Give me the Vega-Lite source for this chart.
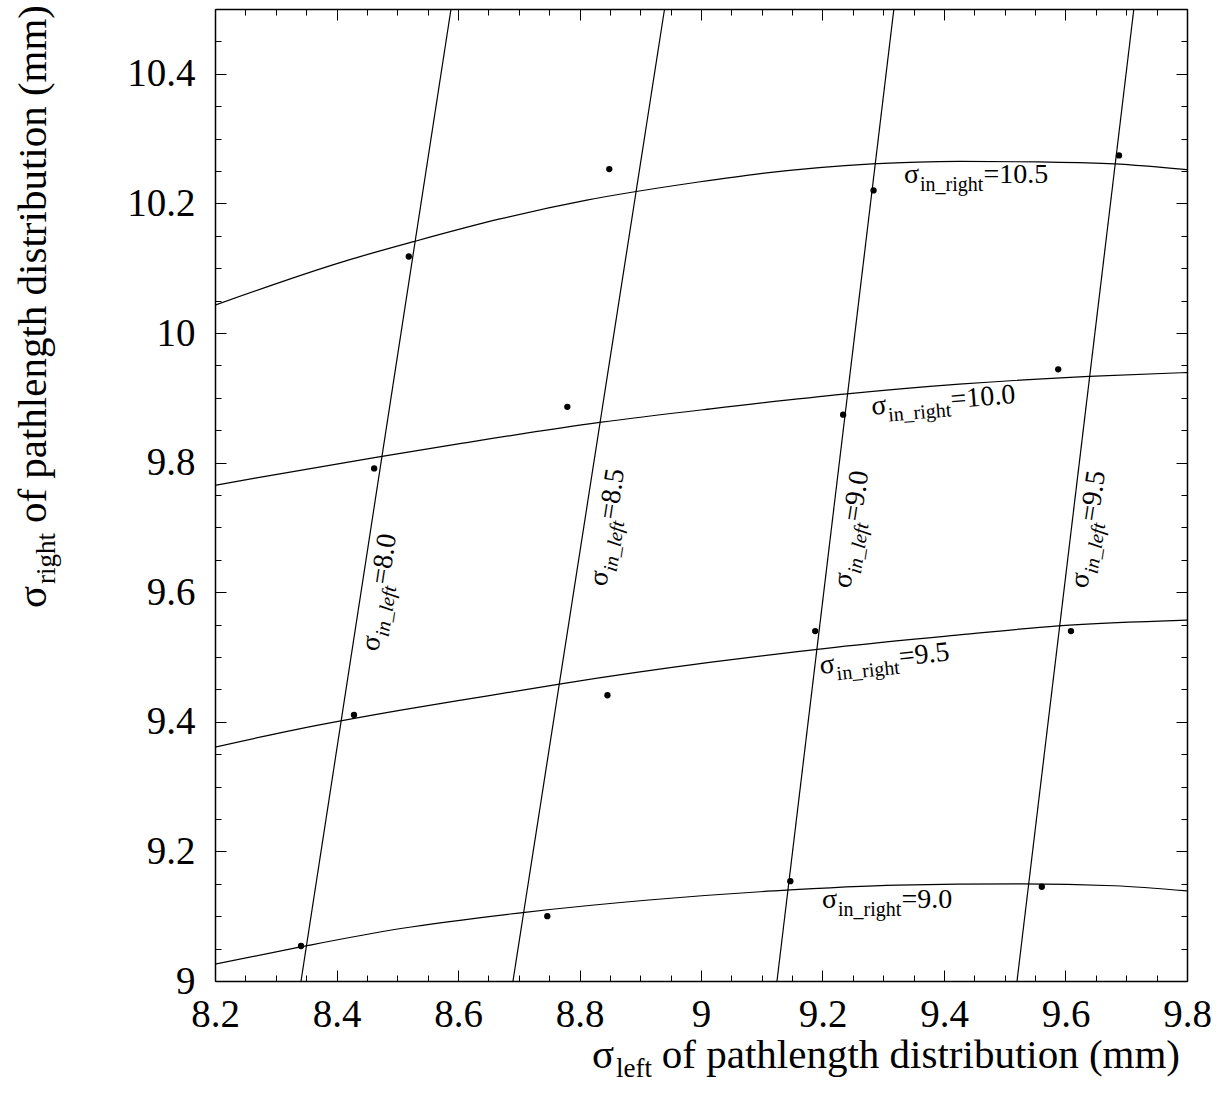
{
  "$schema": "https://vega.github.io/schema/vega-lite/v6.json",
  "width": 972,
  "height": 972,
  "autosize": {"type": "none"},
  "padding": {"left": 215, "top": 9, "right": 33, "bottom": 125},
  "background": "white",
  "config": {
    "view": {"stroke": null},
    "axis": {"domainColor": "black", "domainWidth": 1.5, "tickColor": "black", "tickWidth": 1, "labelColor": "black", "labelFont": "Liberation Serif", "labelFontSize": 39, "grid": false}
  },
  "datasets": {
    "points": [
      {"x": 8.3416, "y": 9.054}, {"x": 8.4288, "y": 9.4105}, {"x": 8.462, "y": 9.791}, {"x": 8.519, "y": 10.118},
      {"x": 8.747, "y": 9.1}, {"x": 8.846, "y": 9.441}, {"x": 8.78, "y": 9.886}, {"x": 8.849, "y": 10.253},
      {"x": 9.147, "y": 9.154}, {"x": 9.188, "y": 9.54}, {"x": 9.234, "y": 9.874}, {"x": 9.284, "y": 10.22},
      {"x": 9.561, "y": 9.1455}, {"x": 9.609, "y": 9.54}, {"x": 9.588, "y": 9.944}, {"x": 9.688, "y": 10.274}
    ],
    "lines": [
      {"id": "R10.5", "i": 0, "x": 8.2, "y": 10.043}, {"id": "R10.5", "i": 1, "x": 8.414, "y": 10.111}, {"id": "R10.5", "i": 2, "x": 8.527, "y": 10.141}, {"id": "R10.5", "i": 3, "x": 8.669, "y": 10.176}, {"id": "R10.5", "i": 4, "x": 8.812, "y": 10.205}, {"id": "R10.5", "i": 5, "x": 8.996, "y": 10.233}, {"id": "R10.5", "i": 6, "x": 9.098, "y": 10.246}, {"id": "R10.5", "i": 7, "x": 9.282, "y": 10.261}, {"id": "R10.5", "i": 8, "x": 9.425, "y": 10.265}, {"id": "R10.5", "i": 9, "x": 9.557, "y": 10.264}, {"id": "R10.5", "i": 10, "x": 9.68, "y": 10.261}, {"id": "R10.5", "i": 11, "x": 9.8, "y": 10.252},
      {"id": "R10.0", "i": 0, "x": 8.2, "y": 9.765}, {"id": "R10.0", "i": 1, "x": 8.266, "y": 9.776}, {"id": "R10.0", "i": 2, "x": 8.465, "y": 9.808}, {"id": "R10.0", "i": 3, "x": 8.608, "y": 9.83}, {"id": "R10.0", "i": 4, "x": 8.833, "y": 9.862}, {"id": "R10.0", "i": 5, "x": 9.016, "y": 9.883}, {"id": "R10.0", "i": 6, "x": 9.24, "y": 9.906}, {"id": "R10.0", "i": 7, "x": 9.425, "y": 9.921}, {"id": "R10.0", "i": 8, "x": 9.639, "y": 9.933}, {"id": "R10.0", "i": 9, "x": 9.8, "y": 9.939},
      {"id": "R9.5", "i": 0, "x": 8.2, "y": 9.361}, {"id": "R9.5", "i": 1, "x": 8.333, "y": 9.388}, {"id": "R9.5", "i": 2, "x": 8.506, "y": 9.418}, {"id": "R9.5", "i": 3, "x": 8.649, "y": 9.44}, {"id": "R9.5", "i": 4, "x": 8.772, "y": 9.459}, {"id": "R9.5", "i": 5, "x": 9.017, "y": 9.492}, {"id": "R9.5", "i": 6, "x": 9.221, "y": 9.515}, {"id": "R9.5", "i": 7, "x": 9.425, "y": 9.534}, {"id": "R9.5", "i": 8, "x": 9.588, "y": 9.548}, {"id": "R9.5", "i": 9, "x": 9.8, "y": 9.557},
      {"id": "R9.0", "i": 0, "x": 8.2, "y": 9.026}, {"id": "R9.0", "i": 1, "x": 8.343, "y": 9.053}, {"id": "R9.0", "i": 2, "x": 8.506, "y": 9.081}, {"id": "R9.0", "i": 3, "x": 8.71, "y": 9.106}, {"id": "R9.0", "i": 4, "x": 8.914, "y": 9.125}, {"id": "R9.0", "i": 5, "x": 9.119, "y": 9.139}, {"id": "R9.0", "i": 6, "x": 9.323, "y": 9.148}, {"id": "R9.0", "i": 7, "x": 9.527, "y": 9.15}, {"id": "R9.0", "i": 8, "x": 9.68, "y": 9.147}, {"id": "R9.0", "i": 9, "x": 9.8, "y": 9.139},
      {"id": "L8.0", "i": 0, "x": 8.3416, "y": 9.0}, {"id": "L8.0", "i": 1, "x": 8.5885, "y": 10.5},
      {"id": "L8.5", "i": 0, "x": 8.6905, "y": 9.0}, {"id": "L8.5", "i": 1, "x": 8.94, "y": 10.5},
      {"id": "L9.0", "i": 0, "x": 9.1251, "y": 9.0}, {"id": "L9.0", "i": 1, "x": 9.3175, "y": 10.5},
      {"id": "L9.5", "i": 0, "x": 9.5202, "y": 9.0}, {"id": "L9.5", "i": 1, "x": 9.7125, "y": 10.5}
    ],
    "labels": [
      {"id": "R10.5", "sub": "in_right", "val": "=10.5", "x": 9.3605, "y": 10.231},
      {"id": "R9.0", "sub": "in_right", "val": "=9.0", "x": 9.2255, "y": 9.1122},
      {"id": "R10.0", "sub": "in_right", "val": "=10.0", "x": 9.3078, "y": 9.8758},
      {"id": "R9.5", "sub": "in_right", "val": "=9.5", "x": 9.2231, "y": 9.4765},
      {"id": "L8.0", "sub": "in_left", "val": "=8.0", "x": 8.4726, "y": 9.5321},
      {"id": "L8.5", "sub": "in_left", "val": "=8.5", "x": 8.8479, "y": 9.6324},
      {"id": "L9.0", "sub": "in_left", "val": "=9.0", "x": 9.2499, "y": 9.6293},
      {"id": "L9.5", "sub": "in_left", "val": "=9.5", "x": 9.6397, "y": 9.6293}
    ],
    "titles": [
      {"id": "xt", "sub": "left", "main": "of pathlength distribution (mm)", "x": 9.7885, "y": 8.8657},
      {"id": "yt", "sub": "right", "main": "of pathlength distribution (mm)", "x": 7.9218, "y": 10.5062}
    ]
  },
  "encoding": {
    "x": {"field": "x", "type": "quantitative", "scale": {"domain": [8.2, 9.8], "nice": false, "zero": false}, "axis": null},
    "y": {"field": "y", "type": "quantitative", "scale": {"domain": [9, 10.5], "nice": false, "zero": false}, "axis": null}
  },
  "resolve": {"axis": {"x": "independent", "y": "independent"}},
  "layer": [
    {
      "data": {"name": "lines"},
      "mark": {"type": "line", "color": "black", "strokeWidth": 1.2, "clip": true, "interpolate": "monotone"},
      "encoding": {
        "x": {"field": "x", "type": "quantitative", "scale": {"domain": [8.2, 9.8], "nice": false, "zero": false},
          "axis": {"orient": "top", "title": null, "labels": false, "domain": true,
            "values": [8.2,8.25,8.3,8.35,8.4,8.45,8.5,8.55,8.6,8.65,8.7,8.75,8.8,8.85,8.9,8.95,9,9.05,9.1,9.15,9.2,9.25,9.3,9.35,9.4,9.45,9.5,9.55,9.6,9.65,9.7,9.75,9.8],
            "tickSize": {"condition": {"test": "abs(datum.value*5-round(datum.value*5))<0.001", "value": -11}, "value": -6}}},
        "y": {"field": "y", "type": "quantitative", "scale": {"domain": [9, 10.5], "nice": false, "zero": false},
          "axis": {"orient": "right", "title": null, "labels": false, "domain": true,
            "values": [9,9.05,9.1,9.15,9.2,9.25,9.3,9.35,9.4,9.45,9.5,9.55,9.6,9.65,9.7,9.75,9.8,9.85,9.9,9.95,10,10.05,10.1,10.15,10.2,10.25,10.3,10.35,10.4,10.45,10.5],
            "tickSize": {"condition": {"test": "abs(datum.value*5-round(datum.value*5))<0.001", "value": -11}, "value": -6}}},
        "detail": {"field": "id", "type": "nominal"},
        "order": {"field": "i", "type": "quantitative"}
      }
    },
    {
      "data": {"name": "points"},
      "mark": {"type": "circle", "size": 40, "color": "black", "opacity": 1},
      "encoding": {
        "x": {"field": "x", "type": "quantitative", "scale": {"domain": [8.2, 9.8], "nice": false, "zero": false},
          "axis": {"orient": "bottom", "title": null, "domain": true, "labelFlush": false, "labelOverlap": false, "labelPadding": 25,
            "values": [8.2,8.25,8.3,8.35,8.4,8.45,8.5,8.55,8.6,8.65,8.7,8.75,8.8,8.85,8.9,8.95,9,9.05,9.1,9.15,9.2,9.25,9.3,9.35,9.4,9.45,9.5,9.55,9.6,9.65,9.7,9.75,9.8],
            "labelExpr": "abs(datum.value*5-round(datum.value*5))<0.001 ? format(datum.value,'~g') : ''",
            "tickSize": {"condition": {"test": "abs(datum.value*5-round(datum.value*5))<0.001", "value": -11}, "value": -6}}},
        "y": {"field": "y", "type": "quantitative", "scale": {"domain": [9, 10.5], "nice": false, "zero": false},
          "axis": {"orient": "left", "title": null, "domain": true, "labelFlush": false, "labelOverlap": false, "labelPadding": 31,
            "values": [9,9.05,9.1,9.15,9.2,9.25,9.3,9.35,9.4,9.45,9.5,9.55,9.6,9.65,9.7,9.75,9.8,9.85,9.9,9.95,10,10.05,10.1,10.15,10.2,10.25,10.3,10.35,10.4,10.45,10.5],
            "labelExpr": "abs(datum.value*5-round(datum.value*5))<0.001 ? format(datum.value,'~g') : ''",
            "tickSize": {"condition": {"test": "abs(datum.value*5-round(datum.value*5))<0.001", "value": -11}, "value": -6}}}
      }
    },
    {"data": {"name": "labels"}, "transform": [{"filter": {"field": "id", "oneOf": ["R10.5", "R9.0"]}}],
     "mark": {"type": "text", "font": "Liberation Serif", "fontSize": 28, "align": "right", "baseline": "alphabetic", "dx": -1, "color": "black"},
     "encoding": {"text": {"value": "σ"}}},
    {"data": {"name": "labels"}, "transform": [{"filter": {"field": "id", "oneOf": ["R10.5", "R9.0"]}}],
     "mark": {"type": "text", "font": "Liberation Serif", "fontSize": 20, "align": "left", "baseline": "alphabetic", "dy": 8, "color": "black"},
     "encoding": {"text": {"field": "sub"}}},
    {"data": {"name": "labels"}, "transform": [{"filter": {"field": "id", "oneOf": ["R10.5", "R9.0"]}}],
     "mark": {"type": "text", "font": "Liberation Serif", "fontSize": 28, "align": "left", "baseline": "alphabetic", "dx": 63.5, "color": "black"},
     "encoding": {"text": {"field": "val"}}},
    {"data": {"name": "labels"}, "transform": [{"filter": {"field": "id", "equal": "R10.0"}}],
     "mark": {"type": "text", "font": "Liberation Serif", "fontSize": 28, "align": "right", "baseline": "alphabetic", "dx": -1, "angle": -4.7, "color": "black"},
     "encoding": {"text": {"value": "σ"}}},
    {"data": {"name": "labels"}, "transform": [{"filter": {"field": "id", "equal": "R10.0"}}],
     "mark": {"type": "text", "font": "Liberation Serif", "fontSize": 20, "align": "left", "baseline": "alphabetic", "dy": 8, "angle": -4.7, "color": "black"},
     "encoding": {"text": {"field": "sub"}}},
    {"data": {"name": "labels"}, "transform": [{"filter": {"field": "id", "equal": "R10.0"}}],
     "mark": {"type": "text", "font": "Liberation Serif", "fontSize": 28, "align": "left", "baseline": "alphabetic", "dx": 63.5, "angle": -4.7, "color": "black"},
     "encoding": {"text": {"field": "val"}}},
    {"data": {"name": "labels"}, "transform": [{"filter": {"field": "id", "equal": "R9.5"}}],
     "mark": {"type": "text", "font": "Liberation Serif", "fontSize": 28, "align": "right", "baseline": "alphabetic", "dx": -1, "angle": -6, "color": "black"},
     "encoding": {"text": {"value": "σ"}}},
    {"data": {"name": "labels"}, "transform": [{"filter": {"field": "id", "equal": "R9.5"}}],
     "mark": {"type": "text", "font": "Liberation Serif", "fontSize": 20, "align": "left", "baseline": "alphabetic", "dy": 8, "angle": -6, "color": "black"},
     "encoding": {"text": {"field": "sub"}}},
    {"data": {"name": "labels"}, "transform": [{"filter": {"field": "id", "equal": "R9.5"}}],
     "mark": {"type": "text", "font": "Liberation Serif", "fontSize": 28, "align": "left", "baseline": "alphabetic", "dx": 63.5, "angle": -6, "color": "black"},
     "encoding": {"text": {"field": "val"}}},
    {"data": {"name": "labels"}, "transform": [{"filter": {"field": "id", "oneOf": ["L8.0", "L8.5", "L9.0", "L9.5"]}}],
     "mark": {"type": "text", "font": "Liberation Serif", "fontSize": 28, "align": "right", "baseline": "alphabetic", "dx": -1, "angle": -81.2, "color": "black"},
     "encoding": {"text": {"value": "σ"}}},
    {"data": {"name": "labels"}, "transform": [{"filter": {"field": "id", "oneOf": ["L8.0", "L8.5", "L9.0", "L9.5"]}}],
     "mark": {"type": "text", "font": "Liberation Serif", "fontSize": 20, "fontStyle": "italic", "align": "left", "baseline": "alphabetic", "dy": 8, "angle": -81.2, "color": "black"},
     "encoding": {"text": {"field": "sub"}}},
    {"data": {"name": "labels"}, "transform": [{"filter": {"field": "id", "oneOf": ["L8.0", "L8.5", "L9.0", "L9.5"]}}],
     "mark": {"type": "text", "font": "Liberation Serif", "fontSize": 28, "align": "left", "baseline": "alphabetic", "dx": 51.5, "angle": -81.2, "color": "black"},
     "encoding": {"text": {"field": "val"}}},
    {"data": {"name": "titles"}, "transform": [{"filter": {"field": "id", "equal": "xt"}}],
     "mark": {"type": "text", "font": "Liberation Serif", "fontSize": 41, "align": "right", "baseline": "alphabetic", "color": "black"},
     "encoding": {"text": {"field": "main"}}},
    {"data": {"name": "titles"}, "transform": [{"filter": {"field": "id", "equal": "xt"}}],
     "mark": {"type": "text", "font": "Liberation Serif", "fontSize": 27, "align": "right", "baseline": "alphabetic", "dx": -528, "dy": 9, "color": "black"},
     "encoding": {"text": {"field": "sub"}}},
    {"data": {"name": "titles"}, "transform": [{"filter": {"field": "id", "equal": "xt"}}],
     "mark": {"type": "text", "font": "Liberation Serif", "fontSize": 41, "align": "right", "baseline": "alphabetic", "dx": -566, "color": "black"},
     "encoding": {"text": {"value": "σ"}}},
    {"data": {"name": "titles"}, "transform": [{"filter": {"field": "id", "equal": "yt"}}],
     "mark": {"type": "text", "font": "Liberation Serif", "fontSize": 41, "align": "right", "baseline": "alphabetic", "angle": -90, "color": "black"},
     "encoding": {"text": {"field": "main"}}},
    {"data": {"name": "titles"}, "transform": [{"filter": {"field": "id", "equal": "yt"}}],
     "mark": {"type": "text", "font": "Liberation Serif", "fontSize": 27, "align": "right", "baseline": "alphabetic", "dx": -528, "dy": 9, "angle": -90, "color": "black"},
     "encoding": {"text": {"field": "sub"}}},
    {"data": {"name": "titles"}, "transform": [{"filter": {"field": "id", "equal": "yt"}}],
     "mark": {"type": "text", "font": "Liberation Serif", "fontSize": 41, "align": "right", "baseline": "alphabetic", "dx": -581, "angle": -90, "color": "black"},
     "encoding": {"text": {"value": "σ"}}}
  ]
}
